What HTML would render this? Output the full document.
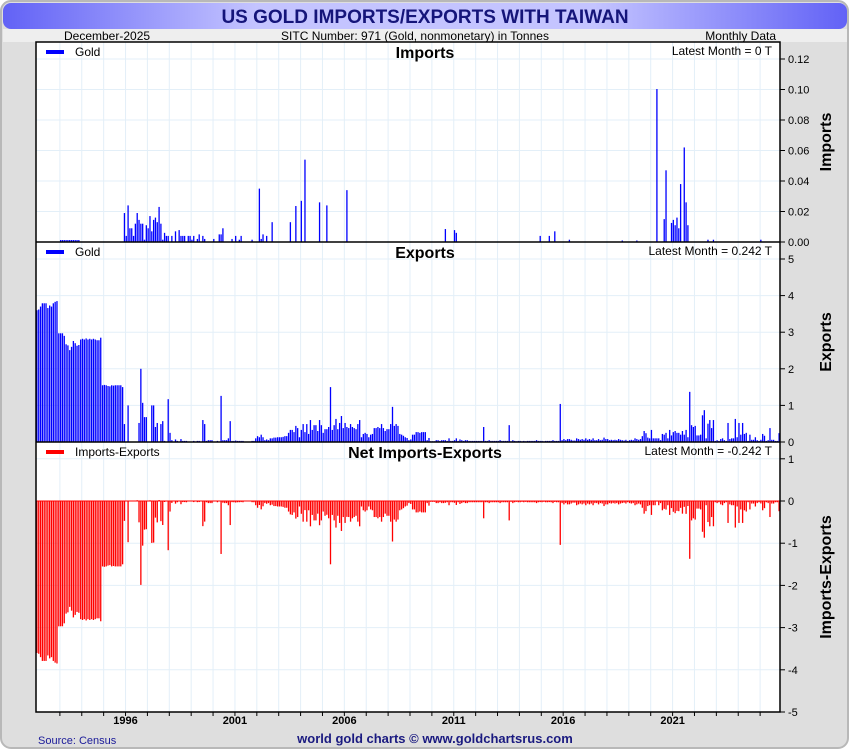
<!DOCTYPE html>
<html><head><meta charset="utf-8">
<style>
body{margin:0;background:#fff;font-family:"Liberation Sans",sans-serif;}
svg{display:block}
</style></head>
<body>
<svg id="chart" width="850" height="750" xmlns="http://www.w3.org/2000/svg">
<defs>
<linearGradient id="tg" x1="0" x2="1" y1="0" y2="0">
<stop offset="0" stop-color="#6262f6"/><stop offset="0.3" stop-color="#c4c4ff"/><stop offset="0.7" stop-color="#c4c4ff"/><stop offset="1" stop-color="#6262f6"/>
</linearGradient>
</defs>
<rect x="0" y="0" width="850" height="750" fill="#ffffff"/>
<rect x="1" y="1" width="847" height="747" rx="10" fill="#dedede" stroke="#b8b8b8" stroke-width="2"/>
<rect x="3" y="3" width="844" height="26" rx="8" fill="url(#tg)"/>
<text x="425" y="23" text-anchor="middle" font-size="19" font-weight="bold" fill="#15157a">US GOLD IMPORTS/EXPORTS WITH TAIWAN</text>
<rect x="3" y="29" width="844" height="13" fill="#eeeeee"/>
<text x="64" y="40" font-size="12" fill="#000">December-2025</text>
<text x="415" y="40" text-anchor="middle" font-size="12" fill="#000">SITC Number: 971 (Gold, nonmonetary) in Tonnes</text>
<text x="776" y="40" text-anchor="end" font-size="12" fill="#000">Monthly Data</text>
<rect x="36" y="42" width="744" height="670" fill="#ffffff"/>
<g id="grid"></g>
<g id="bars"></g>
<g id="axes"></g>
<g id="labels"></g>
<text x="38" y="744" font-size="11" fill="#1a1a99">Source: Census</text>
<text x="435" y="743" text-anchor="middle" font-size="13" font-weight="bold" fill="#1a1a80">world gold charts © www.goldchartsrus.com</text>
</svg>
<script>
const startYear = 1992;
const years = [1996,2001,2006,2011,2016,2021];
const importTicks = [0,0.02,0.04,0.06,0.08,0.10,0.12];
const importTickLabels = ["0.00","0.02","0.04","0.06","0.08","0.10","0.12"];
const exportTicks = [0,1,2,3,4,5];
const netTicks = [1,0,-1,-2,-3,-4,-5];
// exports, tonnes, monthly from Jan 1992
const exportsValues = [
3.6,3.62,3.7,3.79,3.79,3.79,3.66,3.73,3.7,3.79,3.83,3.85,
2.97,2.97,2.97,2.9,2.67,2.64,2.51,2.6,2.76,2.7,2.63,2.65,
2.8,2.82,2.8,2.83,2.8,2.82,2.8,2.82,2.8,2.78,2.78,2.85,
1.55,1.56,1.55,1.53,1.52,1.55,1.54,1.55,1.55,1.55,1.55,1.5,
0.49,0,1.0,0,0,0,0,0,0.52,2.0,1.07,0.68,
0.68,0,0,1.0,1.0,0.41,0.52,0,0.49,0.57,0.03,0,
1.17,0.25,0.05,0,0.07,0.03,0,0.08,0.03,0.03,0.03,0,
0,0,0.03,0,0.03,0.03,0,0.6,0.49,0.03,0.05,0.05,
0.05,0,0,0.03,0,1.26,0.05,0.05,0.05,0.1,0.57,0.03,
0.03,0.04,0.03,0.03,0.03,0.03,0,0,0,0,0.03,0.03,
0.1,0.16,0.13,0.2,0.13,0.05,0.07,0.05,0.1,0.1,0.12,0.12,
0.13,0.13,0.13,0.14,0.16,0.16,0.25,0.33,0.33,0.27,0.44,0.38,
0.13,0.33,0.49,0.27,0.49,0.22,0.6,0.33,0.46,0.46,0.3,0.6,
0.46,0.25,0.35,0.35,0.41,1.5,0.33,0.46,0.63,0.35,0.52,0.71,
0.38,0.52,0.41,0.38,0.49,0.41,0.38,0.35,0.49,0.6,0.13,0.22,
0.25,0.22,0.13,0.2,0.22,0.38,0.38,0.41,0.38,0.49,0.38,0.3,
0.35,0.35,0.49,0.96,0.44,0.49,0.44,0.22,0.2,0.17,0.13,0.11,
0.05,0.07,0.2,0.2,0.27,0.27,0.25,0.27,0.27,0.27,0.05,0.11,
0.02,0.02,0.02,0.05,0.05,0.03,0.05,0.05,0.05,0.03,0.1,0.03,
0.03,0.05,0.1,0.03,0.07,0.05,0.03,0.05,0.05,0.03,0.03,0.03,
0.03,0.03,0.03,0.03,0.03,0.41,0.03,0.03,0.05,0.03,0.03,0.03,
0.03,0.03,0.05,0.03,0.03,0.03,0.03,0.46,0.02,0.05,0.03,0.02,
0.03,0.03,0.02,0.03,0.02,0.03,0.03,0.03,0.03,0.03,0.05,0.03,
0.03,0.03,0.02,0.03,0.03,0.03,0.03,0.05,0.03,0.03,0.03,1.04,
0.05,0.08,0.05,0.08,0.08,0.06,0.04,0.04,0.1,0.08,0.06,0.08,
0.06,0.1,0.06,0.08,0.06,0.1,0.05,0.05,0.08,0.05,0.06,0.12,
0.08,0.08,0.05,0.06,0.05,0.06,0.05,0.08,0.06,0.05,0.04,0.06,
0.03,0.05,0.06,0.05,0.1,0.08,0.06,0.08,0.16,0.3,0.24,0.12,
0.1,0.33,0.1,0.1,0.1,0.1,0.05,0.22,0.2,0.25,0.1,0.33,
0.18,0.27,0.3,0.25,0.25,0.2,0.3,0.2,0.33,0.13,1.37,0.46,
0.41,0.44,0.18,0.18,0.2,0.73,0.87,0.1,0.5,0.6,0.38,0.6,
0.03,0.05,0.03,0.08,0.1,0.05,0.03,0.52,0.08,0.1,0.1,0.63,
0.13,0.52,0.2,0.52,0.22,0.25,0.03,0.2,0.06,0.06,0.13,0.05,
0.03,0.06,0.22,0.17,0.03,0.05,0.38,0.06,0.06,0.03,0.03,0.242
];
// imports: sparse, month index from Jan 1992, and tonnes
const importMonths = [13,14,15,16,17,18,19,20,21,22,23,48,49,50,51,52,53,54,55,56,57,58,59,60,61,62,63,64,65,66,67,68,69,70,71,72,74,76,78,79,80,81,83,84,85,86,88,89,91,92,97,100,101,102,107,109,111,112,118,122,123,124,126,129,139,142,145,147,155,159,170,224,229,230,276,281,284,292,321,329,340,344,345,348,349,350,351,352,353,355,356,357,368,371,397];
const importValues = [0.0013,0.0013,0.0013,0.0013,0.0013,0.0013,0.0013,0.0013,0.0013,0.0013,0.0013,0.019,0.004,0.024,0.009,0.009,0.004,0.012,0.019,0.0145,0.012,0.012,0.0015,0.011,0.009,0.017,0.007,0.0145,0.016,0.013,0.023,0.012,0.0015,0.006,0.004,0.004,0.004,0.007,0.0078,0.004,0.004,0.004,0.004,0.004,0.0015,0.004,0.002,0.005,0.004,0.002,0.002,0.005,0.005,0.009,0.002,0.004,0.0015,0.004,0.0015,0.035,0.002,0.005,0.004,0.013,0.013,0.0236,0.027,0.054,0.026,0.024,0.034,0.0085,0.0078,0.006,0.004,0.004,0.007,0.0015,0.001,0.001,0.1003,0.015,0.047,0.0125,0.0145,0.011,0.016,0.009,0.038,0.062,0.026,0.011,0.0015,0.0015,0.0015];

const NS="http://www.w3.org/2000/svg";
function mk(tag, attrs, parent){const e=document.createElementNS(NS,tag);for(const k in attrs)e.setAttribute(k,attrs[k]);parent.appendChild(e);return e;}
const nMonths = exportsValues.length;
const X0=36, X1=780, mw=(X1-X0)/nMonths;
const xC = i => X0 + (i+0.5)*mw;
const yImp = v => 242 - v*(183/0.12);
const yExp = v => 442 - v*(183/5);
const yNet = v => 501 - v*(211/5);

const importsFull = new Array(nMonths).fill(0);
importMonths.forEach((m,k)=>{importsFull[m]=importValues[k];});
const netValues = importsFull.map((v,i)=>v-exportsValues[i]);

const grid=document.getElementById('grid'), bars=document.getElementById('bars'), axes=document.getElementById('axes'), labels=document.getElementById('labels');
// vertical gridlines each year
for(let k=1;k<nMonths/12;k++){
  const x = X0 + k*12*mw + 2;
  const l=mk('line',{x1:x,x2:x,y1:42,y2:712,stroke:'#e3eff8','stroke-width':1},grid);
  
  
  const t=mk('line',{x1:x,x2:x,y1:712,y2:716,stroke:'#000','stroke-width':1},axes);
  
  
}
function hgrid(y){const l=mk('line',{x1:X0,x2:X1,y1:y,y2:y,stroke:'#e3eff8','stroke-width':1},grid);
  
  }
function rtick(y,txt,name){
  const t=mk('line',{x1:X1,x2:X1+5,y1:y,y2:y,stroke:'#000'},axes);
  
  
  const s=mk('text',{x:X1+8,y:y+4,'font-size':11,fill:'#000'},labels);s.textContent=txt;
  
  
}
importTicks.forEach((v,k)=>{const y=yImp(v); if(v>0)hgrid(y); rtick(y,importTickLabels[k],'imports-axis');});
exportTicks.forEach(v=>{const y=yExp(v); if(v>0)hgrid(y); rtick(y,String(v),'exports-axis');});
netTicks.forEach(v=>{const y=yNet(v); if(v!==0&&v!==-5)hgrid(y); rtick(y,String(v),'net-axis');});

// bars
const bw=1.3;
importsFull.forEach((v,i)=>{ if(v<=0)return;
  const r=mk('rect',{x:xC(i)-bw/2,y:yImp(v),width:bw,height:242-yImp(v),fill:'#0000ff'},bars);
  
  
});
exportsValues.forEach((v,i)=>{ if(v<=0)return;
  const r=mk('rect',{x:xC(i)-bw/2,y:yExp(v),width:bw,height:442-yExp(v),fill:'#0000ff'},bars);
  
  
});
netValues.forEach((v,i)=>{ if(v===0)return;
  const y0=yNet(0), y1=yNet(v);
  const r=mk('rect',{x:xC(i)-bw/2,y:Math.min(y0,y1),width:bw,height:Math.max(0.6,Math.abs(y1-y0)),fill:'#ff0000'},bars);
  
  
});
// zero line net
const z=mk('line',{x1:X0,x2:X1,y1:yNet(0),y2:yNet(0),stroke:'#ff0000','stroke-width':1},bars);



// frame & dividers
const fr=mk('rect',{x:X0,y:42,width:X1-X0,height:670,fill:'none',stroke:'#000','stroke-width':1.5},axes);


[242,442].forEach(y=>{const l=mk('line',{x1:X0,x2:X1,y1:y,y2:y,stroke:'#000','stroke-width':1.5},axes);
  
  });

// x labels
years.forEach(yr=>{
  const x = X0 + (yr-startYear)*12*mw + 2;
  const t=mk('text',{x:x,y:724,'text-anchor':'middle','font-size':11,'font-weight':'bold',fill:'#000'},labels);
  t.textContent=String(yr);
  
  
});

// panel texts
function txt(x,y,s,attrs,name){const t=mk('text',Object.assign({x:x,y:y},attrs),labels);t.textContent=s;
  
  return t;}
const panels=[{top:42,title:'Imports',leg:'Gold',col:'#0000ff',latest:'Latest Month = 0 T',axis:'Imports',ay:142},
              {top:242,title:'Exports',leg:'Gold',col:'#0000ff',latest:'Latest Month = 0.242 T',axis:'Exports',ay:342},
              {top:442,title:'Net Imports-Exports',leg:'Imports-Exports',col:'#ff0000',latest:'Latest Month = -0.242 T',axis:'Imports-Exports',ay:577}];
panels.forEach(p=>{
  const lg=mk('rect',{x:46,y:p.top+8,width:18,height:4,fill:p.col},labels);
  
  
  txt(75,p.top+14,p.leg,{'font-size':12,fill:'#000'},'legend-entry');
  txt(425,p.top+16,p.title,{'font-size':16,'font-weight':'bold','text-anchor':'middle',fill:'#000'},'panel-title');
  txt(772,p.top+13,p.latest,{'font-size':12,'text-anchor':'end',fill:'#000'},'latest-month-label');
  const a=txt(0,0,p.axis,{'font-size':16,'font-weight':'bold','text-anchor':'middle',fill:'#000',transform:'translate(831,'+p.ay+') rotate(-90)'},'y-axis-title');
});
</script>
</body></html>
